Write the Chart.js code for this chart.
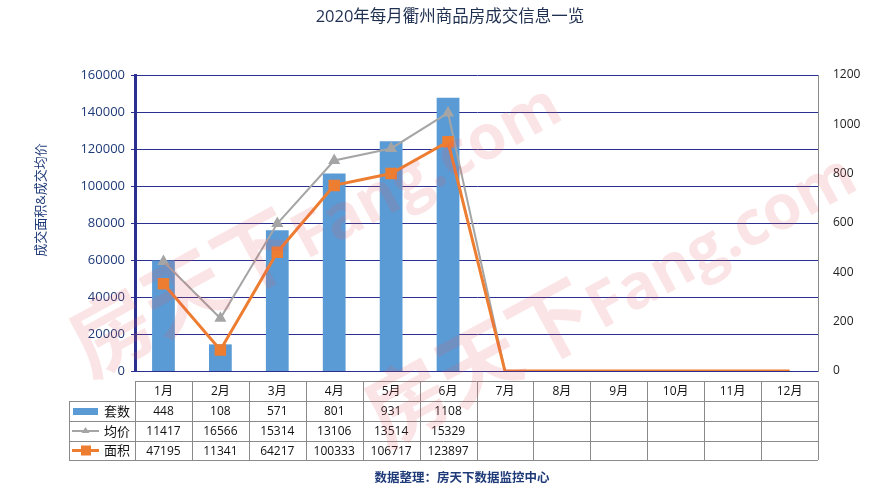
<!DOCTYPE html>
<html>
<head>
<meta charset="utf-8">
<script src="https://cdn.jsdelivr.net/npm/chart.js@4"></script>
<style>
  html, body { margin: 0; padding: 0; background: #fff; }
  #wrap { width: 883px; height: 491px; position: relative; }
</style>
</head>
<body>
<div id="wrap"><canvas id="dealChart" width="883" height="491"></canvas></div>
<script>
// month labels and series, null = not yet reported
var months = ['1月', '2月', '3月', '4月', '5月', '6月', '7月', '8月', '9月', '10月', '11月', '12月'];
var units = [448, 108, 571, 801, 931, 1108, null, null, null, null, null, null];        // 套数
var avgPrice = [11417, 16566, 15314, 13106, 13514, 15329, null, null, null, null, null, null]; // 均价 (table)
var avgPriceLine = [59200, 28500, 79700, 113800, 120300, 139500, 0, 0, 0, 0, 0, 0];     // 均价 line as drawn
var area = [47195, 11341, 64217, 100333, 106717, 123897, null, null, null, null, null, null]; // 面积
var leftTicks = [0, 20000, 40000, 60000, 80000, 100000, 120000, 140000, 160000];
var rightTicks = [0, 200, 400, 600, 800, 1000, 1200];

var NAVY = '#2b2f8f';
var FONT = '"Open Sans", "Noto Sans CJK SC", sans-serif';

var tablePlugin = {
    id: 'dataTable',
    afterDraw: function (chart) {
        var c = chart.ctx;
        var x = chart.scales.x;
        var half = (x.getPixelForValue(1) - x.getPixelForValue(0)) / 2;
        var rows = [381, 401, 421, 441, 460];
        var labelLeft = 69;
        var colLeft = x.getPixelForValue(0) - half;
        var colRight = x.getPixelForValue(months.length - 1) + half;
        c.save();
        c.strokeStyle = '#8a8a8a';
        c.lineWidth = 1;
        // horizontal lines
        c.beginPath();
        c.moveTo(colLeft, rows[0] + 0.5); c.lineTo(colRight, rows[0] + 0.5);
        for (var r = 1; r < rows.length; r++) {
            c.moveTo(labelLeft, rows[r] + 0.5); c.lineTo(colRight, rows[r] + 0.5);
        }
        // vertical lines
        c.moveTo(labelLeft + 0.5, rows[1]); c.lineTo(labelLeft + 0.5, rows[4]);
        for (var i = 0; i <= months.length; i++) {
            var xx = Math.round(x.getPixelForValue(i) - half) + 0.5;
            c.moveTo(xx, rows[0]); c.lineTo(xx, rows[4]);
        }
        c.stroke();

        c.font = '12px ' + FONT;
        c.fillStyle = '#111';
        c.textAlign = 'center';
        c.textBaseline = 'middle';
        months.forEach(function (m, i) {
            c.fillText(m, x.getPixelForValue(i), (rows[0] + rows[1]) / 2 + 1);
        });
        var series = [units, avgPrice, area];
        series.forEach(function (arr, s) {
            var cy = (rows[s + 1] + rows[s + 2]) / 2 + 1;
            arr.forEach(function (v, i) {
                if (v !== null) c.fillText(String(v), x.getPixelForValue(i), cy);
            });
        });

        // row labels with legend keys
        var names = ['套数', '均价', '面积'];
        c.textAlign = 'left';
        names.forEach(function (n, s) {
            var cy = (rows[s + 1] + rows[s + 2]) / 2;
            if (s === 0) {
                c.fillStyle = '#5b9bd5';
                c.fillRect(73, cy - 3, 25, 7);
            } else if (s === 1) {
                c.strokeStyle = '#a5a5a5'; c.lineWidth = 2;
                c.beginPath(); c.moveTo(72, cy); c.lineTo(99, cy); c.stroke();
                c.fillStyle = '#a5a5a5';
                c.beginPath(); c.moveTo(85.5, cy - 4); c.lineTo(89.5, cy + 2); c.lineTo(81.5, cy + 2); c.closePath(); c.fill();
            } else {
                c.strokeStyle = '#ed7d31'; c.lineWidth = 3;
                c.beginPath(); c.moveTo(72, cy); c.lineTo(99, cy); c.stroke();
                c.fillStyle = '#ed7d31';
                c.fillRect(81, cy - 5, 10, 10);
            }
            c.fillStyle = '#111';
            c.font = '13px ' + FONT;
            c.fillText(n, 104, cy + 1);
        });

        // footer
        c.font = 'bold 12.5px ' + FONT;
        c.fillStyle = '#1f3a78';
        c.textAlign = 'center';
        c.fillText('数据整理：房天下数据监控中心', 462, 478);

        // left axis title
        c.save();
        c.translate(41, 200);
        c.rotate(-Math.PI / 2);
        c.font = '13px ' + FONT;
        c.fillStyle = '#1f3a78';
        c.fillText('成交面积&成交均价', 0, 0);
        c.restore();

        // watermark: CJK part larger than the latin part
        c.fillStyle = 'rgba(228, 90, 100, 0.16)';
        c.textAlign = 'left';
        c.textBaseline = 'alphabetic';
        [[90, 378], [385, 448]].forEach(function (p) {
            c.save();
            c.translate(p[0], p[1]);
            c.rotate(-0.5);
            c.font = 'bold 82px "Noto Sans CJK SC", sans-serif';
            c.fillText('房天下', 0, 0);
            var w = c.measureText('房天下').width;
            c.font = 'bold 62px "Open Sans", sans-serif';
            c.fillText('Fang.com', w, 0);
            c.restore();
        });
        c.restore();
    }
};

var ctx = document.getElementById('dealChart').getContext('2d');
var dealChart = new Chart(ctx, {
    type: 'bar',
    data: {
        labels: months,
        datasets: [{
            type: 'line',
            label: '面积',
            data: area.map(function (v) { return v === null ? 0 : v; }),
            yAxisID: 'y',
            borderColor: '#ed7d31',
            backgroundColor: '#ed7d31',
            borderWidth: 3,
            pointStyle: 'rect',
            pointRadius: function (c) { return c.raw === 0 ? 0 : 6; },
            tension: 0,
            order: 1
        }, {
            type: 'line',
            label: '均价',
            data: avgPriceLine,
            yAxisID: 'y',
            borderColor: '#a5a5a5',
            backgroundColor: '#a5a5a5',
            borderWidth: 2,
            pointStyle: 'triangle',
            pointRadius: function (c) { return c.raw === 0 ? 0 : 5; },
            tension: 0,
            order: 2
        }, {
            label: '套数',
            data: units.map(function (v) { return v === null ? 0 : v; }),
            yAxisID: 'y1',
            backgroundColor: '#5b9bd5',
            categoryPercentage: 1,
            barPercentage: 0.4,
            order: 3
        }]
    },
    options: {
        responsive: false,
        animation: false,
        layout: { padding: { top: 75, bottom: 120, left: 0, right: 0 } },
        plugins: {
            legend: { display: false },
            tooltip: { enabled: false },
            title: { display: false }
        },
        scales: {
            x: {
                grid: { display: false },
                border: { color: NAVY, width: 1 },
                ticks: { display: false },
                afterFit: function (s) { s.height = 0; }
            },
            y: {
                position: 'left',
                min: 0,
                max: 160000,
                afterBuildTicks: function (s) { s.ticks = leftTicks.map(function (v) { return { value: v }; }); },
                grid: { color: NAVY, lineWidth: 1, tickLength: 4 },
                border: { color: NAVY, width: 3 },
                ticks: {
                    color: '#1f3a78',
                    font: { size: 13, family: FONT },
                    padding: 6,
                    callback: function (v) { return String(v); }
                },
                afterFit: function (s) { s.width = 135; }
            },
            y1: {
                position: 'right',
                min: 0,
                max: 1200,
                afterBuildTicks: function (s) { s.ticks = rightTicks.map(function (v) { return { value: v }; }); },
                grid: { display: false },
                border: { color: '#8a8a8a', width: 1 },
                ticks: {
                    color: '#222',
                    font: { size: 12, family: FONT },
                    padding: 7,
                    callback: function (v) { return String(v); }
                },
                afterFit: function (s) { s.width = 65; }
            }
        }
    },
    plugins: [tablePlugin, {
        id: 'mainTitle',
        afterDraw: function (chart) {
            var c = chart.ctx;
            c.save();
            c.font = '16.5px ' + FONT;
            c.fillStyle = '#1f3050';
            c.textAlign = 'center';
            c.textBaseline = 'middle';
            c.fillText('2020年每月衢州商品房成交信息一览', 450, 17);
            c.restore();
        }
    }]
});
</script>
</body>
</html>
